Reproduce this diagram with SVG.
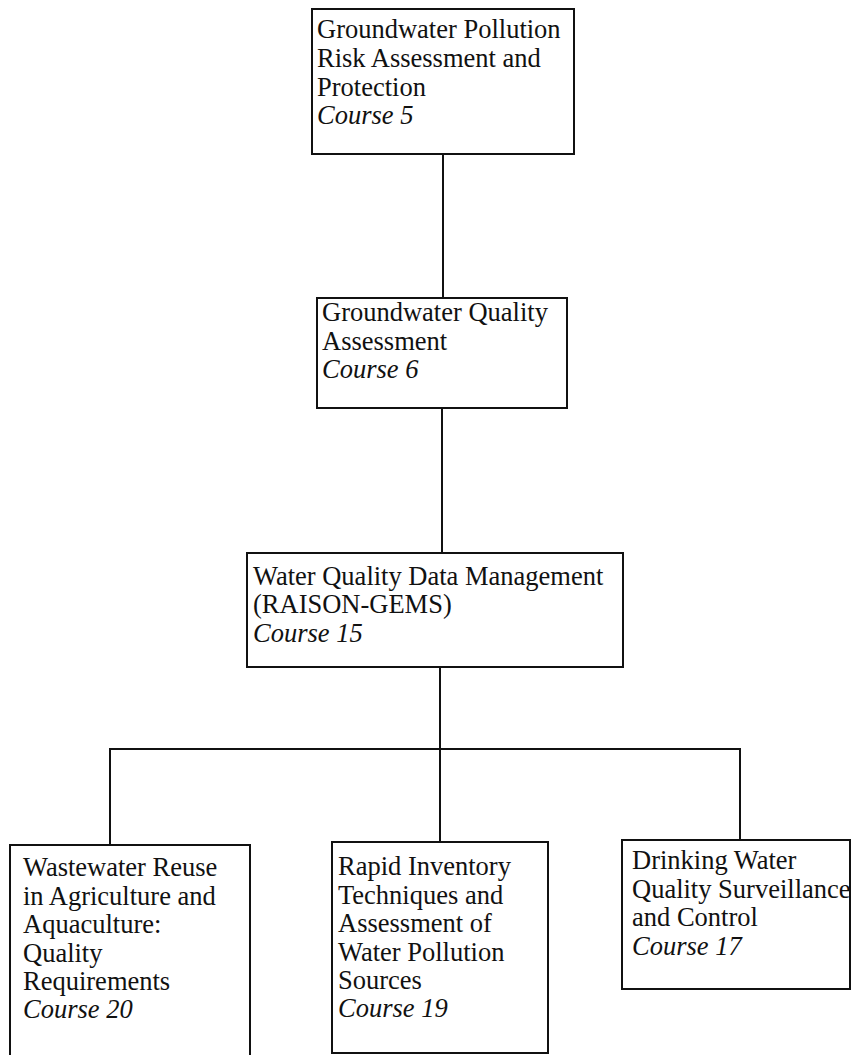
<svg xmlns="http://www.w3.org/2000/svg" width="851" height="1055" viewBox="0 0 851 1055">
  <style>
    .box { fill: #ffffff; stroke: #111111; stroke-width: 2; }
    .wire { fill: none; stroke: #111111; stroke-width: 2; }
    text { font-family: "Liberation Serif", "Times New Roman", serif; font-size: 26.5px; fill: #111111; }
    .course { font-style: italic; }
  </style>
  <rect width="851" height="1055" fill="#ffffff"/>

  <!-- tree connectors -->
  <g id="connectors">
    <line class="wire" x1="443" y1="154" x2="443" y2="298"/>
    <line class="wire" x1="442" y1="408" x2="442" y2="553"/>
    <line class="wire" x1="440" y1="667" x2="440" y2="749"/>
    <line class="wire" x1="109" y1="749" x2="741" y2="749"/>
    <line class="wire" x1="110" y1="749" x2="110" y2="845"/>
    <line class="wire" x1="440" y1="749" x2="440" y2="842"/>
    <line class="wire" x1="740" y1="749" x2="740" y2="840"/>
  </g>

  <g id="course5">
    <rect class="box" x="312" y="9" width="262" height="145"/>
    <text x="317" y="38">Groundwater Pollution</text>
    <text x="317" y="67">Risk Assessment and</text>
    <text x="317" y="96">Protection</text>
    <text class="course" x="317" y="124">Course 5</text>
  </g>

  <g id="course6">
    <rect class="box" x="317" y="298" width="250" height="110"/>
    <text x="322" y="321">Groundwater Quality</text>
    <text x="322" y="350">Assessment</text>
    <text class="course" x="322" y="378">Course 6</text>
  </g>

  <g id="course15">
    <rect class="box" x="247" y="553" width="376" height="114"/>
    <text x="253" y="585">Water Quality Data Management</text>
    <text x="253" y="613">(RAISON-GEMS)</text>
    <text class="course" x="253" y="642">Course 15</text>
  </g>

  <g id="course20">
    <rect class="box" x="10" y="845" width="240" height="216"/>
    <text x="23" y="876">Wastewater Reuse</text>
    <text x="23" y="904.5">in Agriculture and</text>
    <text x="23" y="933">Aquaculture:</text>
    <text x="23" y="961.5">Quality</text>
    <text x="23" y="990">Requirements</text>
    <text class="course" x="23" y="1018">Course 20</text>
  </g>

  <g id="course19">
    <rect class="box" x="332" y="842" width="216" height="211"/>
    <text x="338" y="875">Rapid Inventory</text>
    <text x="338" y="903.5">Techniques and</text>
    <text x="338" y="932">Assessment of</text>
    <text x="338" y="960.5">Water Pollution</text>
    <text x="338" y="989">Sources</text>
    <text class="course" x="338" y="1017">Course 19</text>
  </g>

  <g id="course17">
    <rect class="box" x="622" y="840" width="228" height="149"/>
    <text x="632" y="869">Drinking Water</text>
    <text x="632" y="898">Quality Surveillance</text>
    <text x="632" y="926">and Control</text>
    <text class="course" x="632" y="955">Course 17</text>
  </g>
</svg>
